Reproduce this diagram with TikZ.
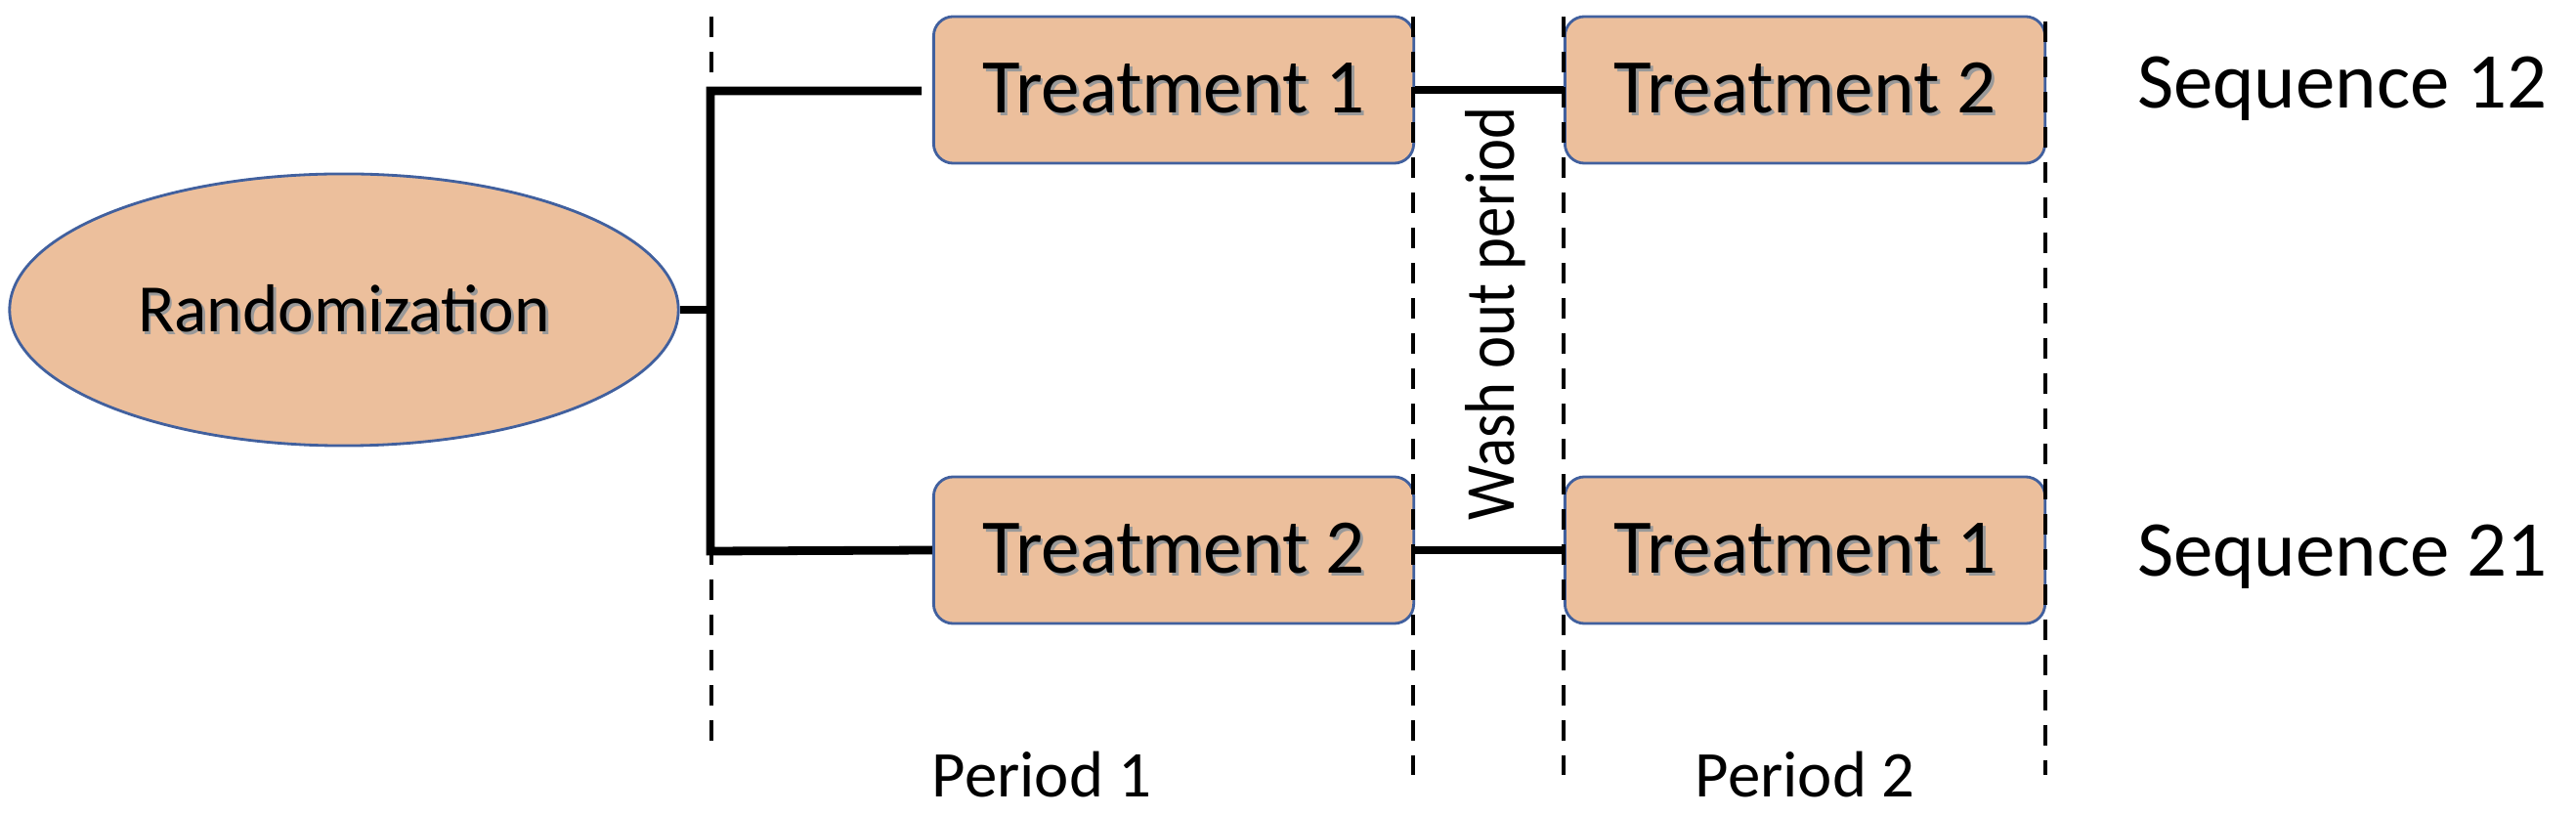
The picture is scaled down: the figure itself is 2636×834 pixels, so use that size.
\documentclass[tikz,border=0pt]{standalone}
\usepackage{fontspec}
\setmainfont{Carlito}
\usetikzlibrary{shapes.geometric}

\definecolor{boxfill}{HTML}{ECBF9C}
\definecolor{boxline}{HTML}{41609E}
\newcommand{\shadowed}[1]{\makebox[0pt][l]{\hspace{0.8pt}\raisebox{-0.8pt}{\textcolor{black!40}{#1}}}#1}

\begin{document}
\begin{tikzpicture}[x=0.01cm, y=-0.01cm,
    treat/.style={rectangle, rounded corners=0.2cm, draw=boxline, line width=0.8pt, fill=boxfill,
        minimum width=4.91cm, minimum height=1.5cm, font=\fontsize{22.5}{27}\selectfont},
    conn/.style={line width=2.5pt},
    divider/.style={line width=1.4pt, dash pattern=on 0.21cm off 0.15cm},
    seqtext/.style={font=\fontsize{23}{28}\selectfont, anchor=base},
    periodtext/.style={font=\fontsize{19}{23}\selectfont, anchor=base}]
    \useasboundingbox (0,0) rectangle (2636,834);

    \node[ellipse, draw=boxline, line width=0.8pt, fill=boxfill, minimum width=6.84cm, minimum height=2.78cm,
        inner sep=0pt, font=\fontsize{19.7}{24}\selectfont] (rand) at (352,317) {\shadowed{Randomization}};

    \node[treat] (a1) at (1201,92) {\shadowed{Treatment 1}};
    \node[treat] (a2) at (1847,92) {\shadowed{Treatment 2}};
    \node[treat] (b1) at (1201,563) {\shadowed{Treatment 2}};
    \node[treat] (b2) at (1847,563) {\shadowed{Treatment 1}};

    \coordinate (fork) at (727,317);
    \coordinate (forktop) at (727,93);
    \coordinate (forkbot) at (727,564);
    \coordinate (gap) at (943,93);

    \draw[conn] (rand.east) -- (fork);
    \draw[conn] (gap) -- (forktop) -- (forkbot) -- (b1.west);
    \draw[conn] (a1.east) -- (a2.west);
    \draw[conn] (b1.east) -- (b2.west);

    \foreach \x/\t/\b in {728/17/758, 1446/17/793, 1600/17/793, 2093/22/793}
        \draw[divider] (\x,\t) -- (\x,\b);

    \node[rotate=90, font=\fontsize{20.5}{24}\selectfont] (wash) at (1530,321) {\scalebox{0.87}[1]{Wash out period}};

    \node[seqtext] (seq12) at (2397,111) {Sequence 12};
    \node[seqtext] (seq21) at (2397,590) {Sequence 21};
    \node[periodtext] (per1) at (1066,815) {Period 1};
    \node[periodtext] (per2) at (1847,815) {Period 2};
\end{tikzpicture}
\end{document}
